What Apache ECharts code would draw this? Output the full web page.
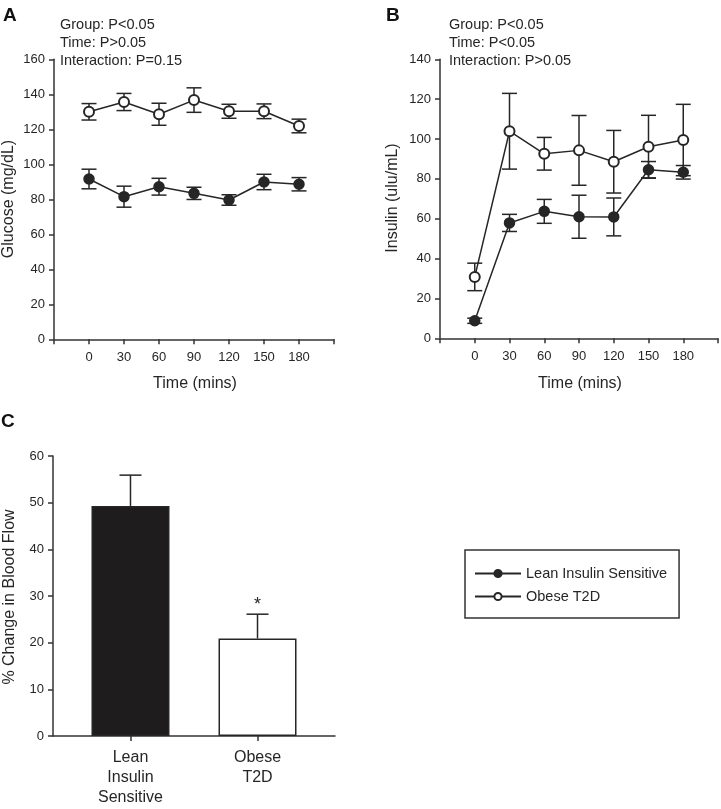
<!DOCTYPE html>
<html><head><meta charset="utf-8">
<script src="https://cdn.jsdelivr.net/npm/echarts@6/dist/echarts.min.js"></script>
<style>html,body{margin:0;padding:0;background:#fff}#c{width:721px;height:809px}</style>
</head><body><div id="c"></div>
<script>
// ---- data ----
const times = [0, 30, 60, 90, 120, 150, 180];
const timeTickLabels = ['0', '30', '60', '90', '120', '150', '180'];
const seriesNames = ['Lean Insulin Sensitive', 'Obese T2D'];

const glucoseLean = [91.6, 81.5, 87.2, 83.4, 79.6, 89.9, 88.6];
const glucoseLeanSem = [5.6, 6.0, 4.8, 3.5, 3.0, 4.4, 3.8];
const glucoseObese = [130.0, 135.6, 128.6, 136.7, 130.3, 130.3, 121.9];
const glucoseObeseSem = [4.7, 4.9, 6.3, 7.0, 4.0, 4.2, 3.9];

const insulinLean = [8.8, 57.9, 63.7, 61.0, 60.9, 84.6, 83.3];
const insulinLeanSem = [1.3, 4.3, 6.0, 10.8, 9.5, 4.1, 3.4];
const insulinObese = [30.8, 103.9, 92.6, 94.3, 88.6, 96.1, 99.5];
const insulinObeseSem = [6.9, 19.0, 8.2, 17.5, 15.7, 15.8, 17.9];

const barCategories = ['Lean\nInsulin\nSensitive', 'Obese\nT2D'];
const barValues = [49.3, 20.9];
const barSem = [6.6, 5.2];

const statsA = ['Group: P<0.05', 'Time: P>0.05', 'Interaction: P=0.15'];
const statsB = ['Group: P<0.05', 'Time: P<0.05', 'Interaction: P>0.05'];

// ---- styling ----
const FONT = '"Liberation Sans", Arial, sans-serif';
const INK = '#262626';
const AX = '#333';

const chart = echarts.init(document.getElementById('c'));

function pts(x, y) { return x.map((t, i) => [t, y[i]]); }
function errData(x, y, s) { return x.map((t, i) => [t, y[i] - s[i], y[i] + s[i]]); }

function errRender(capHalf, upOnly) {
  return function (params, api) {
    const x = api.value(0), lo = api.value(1), hi = api.value(2);
    const pHi = api.coord([x, hi]);
    const pLo = api.coord([x, lo]);
    const st = { stroke: INK, lineWidth: 1.5, fill: null };
    const ch = [
      { type: 'line', shape: { x1: pHi[0], y1: pHi[1], x2: pLo[0], y2: pLo[1] }, style: st },
      { type: 'line', shape: { x1: pHi[0] - capHalf, y1: pHi[1], x2: pHi[0] + capHalf, y2: pHi[1] }, style: st }
    ];
    if (!upOnly) ch.push({ type: 'line', shape: { x1: pLo[0] - capHalf, y1: pLo[1], x2: pLo[0] + capHalf, y2: pLo[1] }, style: st });
    return { type: 'group', children: ch };
  };
}

function timeXAxis(gi) {
  return {
    type: 'value', gridIndex: gi, min: -30, max: 210, interval: 30,
    axisLine: { show: true, onZero: false, lineStyle: { color: AX, width: 1.5 } },
    axisTick: { show: true, length: 5, lineStyle: { color: AX, width: 1.5 } },
    axisLabel: {
      fontFamily: FONT, fontSize: 13, color: INK, margin: 12,
      formatter: v => (v < 0 || v > 180) ? '' : timeTickLabels[times.indexOf(v)]
    },
    splitLine: { show: false }
  };
}
function yAx(gi, max, interval) {
  return {
    type: 'value', gridIndex: gi, min: 0, max: max, interval: interval,
    axisLine: { show: true, onZero: false, lineStyle: { color: AX, width: 1.5 } },
    axisTick: { show: true, length: 5, lineStyle: { color: AX, width: 1.5 } },
    axisLabel: { fontFamily: FONT, fontSize: 13, color: INK, margin: 9 },
    splitLine: { show: false }
  };
}

function lineSeries(name, xi, data, empty) {
  return {
    type: 'line', name: name, xAxisIndex: xi, yAxisIndex: xi, data: data,
    symbol: empty ? 'emptyCircle' : 'circle', symbolSize: 10, z: 5,
    lineStyle: { color: INK, width: 1.5 },
    itemStyle: { color: INK, borderColor: INK, borderWidth: 1.5 },
    emphasis: { disabled: true }, animation: false
  };
}
function errSeries(xi, data, capHalf, upOnly) {
  return {
    type: 'custom', xAxisIndex: xi, yAxisIndex: xi, data: data,
    encode: { x: 0, y: [1, 2] }, renderItem: errRender(capHalf, upOnly), z: 3,
    silent: true, animation: false
  };
}

function statText(lines, x) {
  return lines.map((t, i) => ({
    type: 'text', left: x, top: 17 + i * 18,
    style: { text: t, fontFamily: FONT, fontSize: 14.5, fill: INK }
  }));
}

const option = {
  backgroundColor: '#fff',
  animation: false,
  grid: [
    { left: 54, top: 59.3, width: 280, height: 280 },
    { left: 440, top: 59.3, width: 280, height: 279 },
    { left: 53, top: 456, width: 282, height: 280 }
  ],
  xAxis: [
    timeXAxis(0),
    timeXAxis(1),
    {
      type: 'value', gridIndex: 2, min: 0.39, max: 2.61,
      axisLine: { show: true, onZero: false, lineStyle: { color: AX, width: 1.5 } },
      axisTick: { show: true, length: 5, customValues: [1, 2], lineStyle: { color: AX, width: 1.5 } },
      axisLabel: {
        customValues: [1, 2], fontFamily: FONT, fontSize: 16, color: INK, margin: 12, lineHeight: 20,
        formatter: v => barCategories[Math.round(v) - 1] || ''
      },
      splitLine: { show: false }
    }
  ],
  yAxis: [yAx(0, 160, 20), yAx(1, 140, 20), yAx(2, 60, 10)],
  legend: {
    left: 465, top: 550, orient: 'vertical',
    data: seriesNames,
    itemWidth: 46, itemHeight: 9, itemGap: 8,
    padding: [16, 12, 14, 9],
    borderColor: AX, borderWidth: 1.5,
    textStyle: { fontFamily: FONT, fontSize: 14.5, color: INK },
    selectedMode: false
  },
  series: [
    errSeries(0, errData(times, glucoseLean, glucoseLeanSem), 7.5),
    errSeries(0, errData(times, glucoseObese, glucoseObeseSem), 7.5),
    lineSeries(seriesNames[0], 0, pts(times, glucoseLean), false),
    lineSeries(seriesNames[1], 0, pts(times, glucoseObese), true),
    errSeries(1, errData(times, insulinLean, insulinLeanSem), 7.5),
    errSeries(1, errData(times, insulinObese, insulinObeseSem), 7.5),
    lineSeries(seriesNames[0], 1, pts(times, insulinLean), false),
    lineSeries(seriesNames[1], 1, pts(times, insulinObese), true),
    {
      type: 'bar', xAxisIndex: 2, yAxisIndex: 2, barWidth: 78,
      data: [
        { value: [1, barValues[0]], itemStyle: { color: '#1e1c1d', borderColor: INK, borderWidth: 1.5 } },
        { value: [2, barValues[1]], itemStyle: { color: '#fff', borderColor: INK, borderWidth: 1.5 } }
      ],
      z: 2, silent: true, animation: false
    },
    errSeries(2, [[1, barValues[0], barValues[0] + barSem[0]], [2, barValues[1], barValues[1] + barSem[1]]], 11, true)
  ],
  graphic: [
    { type: 'text', left: 3, top: 6, style: { text: 'A', fontFamily: FONT, fontSize: 19, fontWeight: 'bold', fill: '#111' } },
    { type: 'text', left: 386, top: 6, style: { text: 'B', fontFamily: FONT, fontSize: 19, fontWeight: 'bold', fill: '#111' } },
    { type: 'text', left: 1, top: 412, style: { text: 'C', fontFamily: FONT, fontSize: 19, fontWeight: 'bold', fill: '#111' } },
    ...statText(statsA, 60),
    ...statText(statsB, 449),
    { type: 'text', x: 195, y: 384, style: { text: 'Time (mins)', fontFamily: FONT, fontSize: 16, fill: INK, align: 'center', verticalAlign: 'middle' } },
    { type: 'text', x: 580, y: 384, style: { text: 'Time (mins)', fontFamily: FONT, fontSize: 16, fill: INK, align: 'center', verticalAlign: 'middle' } },
    { type: 'text', x: 9, y: 199, rotation: Math.PI / 2, style: { text: 'Glucose (mg/dL)', fontFamily: FONT, fontSize: 16, fill: INK, align: 'center', verticalAlign: 'middle' } },
    { type: 'text', x: 393, y: 198, rotation: Math.PI / 2, style: { text: 'Insulin (ulu/mL)', fontFamily: FONT, fontSize: 16, fill: INK, align: 'center', verticalAlign: 'middle' } },
    { type: 'text', x: 10, y: 597, rotation: Math.PI / 2, style: { text: '% Change in Blood Flow', fontFamily: FONT, fontSize: 16, fill: INK, align: 'center', verticalAlign: 'middle' } },
    { type: 'text', x: 257.5, y: 605, style: { text: '*', fontFamily: FONT, fontSize: 18, fill: INK, align: 'center', verticalAlign: 'middle' } }
  ]
};
chart.setOption(option);
</script>
</body></html>
